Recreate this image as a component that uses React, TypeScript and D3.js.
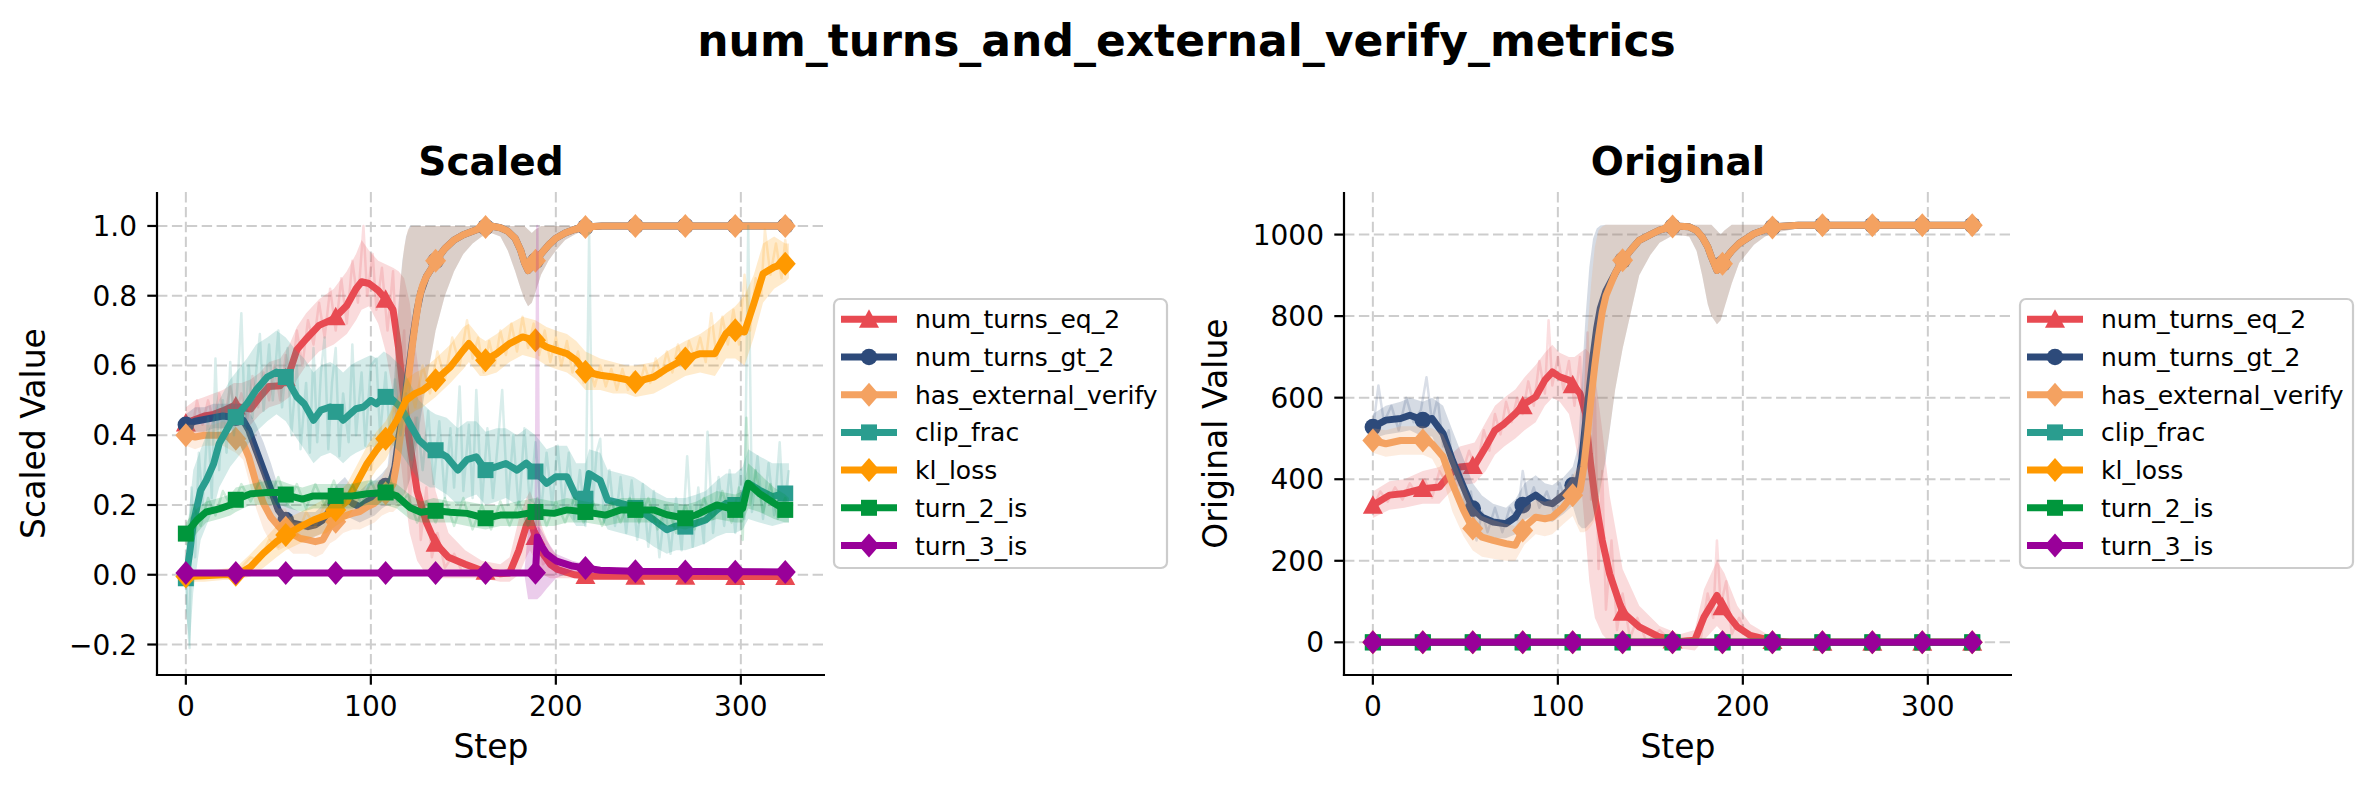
import React from 'react';
import * as d3 from 'd3';

const W = 2373;
const H = 789;
const FONT = '"DejaVu Sans", "Liberation Sans", sans-serif';

const SUPTITLE = 'num_turns_and_external_verify_metrics';
const PANEL_TITLES = ['Scaled', 'Original'];
const Y_LABELS = ['Scaled Value', 'Original Value'];
const X_LABEL = 'Step';

const SERIES_NAMES = ['num_turns_eq_2', 'num_turns_gt_2', 'has_external_verify', 'clip_frac', 'kl_loss', 'turn_2_is', 'turn_3_is'];
const SERIES_COLORS = ['#E84A52', '#2D4A7A', '#F4A261', '#2A9D8F', '#FF9900', '#00963C', '#990099'];
const SERIES_MARKERS = ['triangle', 'circle', 'diamond', 'square', 'diamond', 'square', 'diamond'];
const MARKER_STEPS = [0, 27, 54, 81, 108, 135, 162, 189, 216, 243, 270, 297, 324];
const X_TICKS = [0, 100, 200, 300];
const SCALED_Y_TICKS = [-0.2, 0, 0.2, 0.4, 0.6, 0.8, 1.0];
const ORIGINAL_Y_TICKS = [0, 200, 400, 600, 800, 1000];

// smoothed rows: [step, smoothed value, band low, band high]
const scaledNumTurnsEq2 = [
  [0, 0.435, 0.39, 0.48], [5, 0.445, 0.40, 0.50], [10, 0.455, 0.41, 0.51], [15, 0.46, 0.41, 0.52],
  [20, 0.47, 0.42, 0.53], [26, 0.485, 0.43, 0.55], [30, 0.48, 0.43, 0.55], [35, 0.475, 0.43, 0.56],
  [40, 0.51, 0.46, 0.58], [45, 0.54, 0.48, 0.61], [51, 0.542, 0.49, 0.62], [56, 0.58, 0.51, 0.66],
  [60, 0.645, 0.56, 0.71], [65, 0.676, 0.60, 0.75], [72, 0.715, 0.64, 0.79], [80, 0.734, 0.66, 0.82],
  [87, 0.772, 0.69, 0.87], [92, 0.82, 0.73, 0.92], [95, 0.84, 0.76, 0.96], [99, 0.835, 0.77, 0.93],
  [104, 0.815, 0.72, 0.90], [108, 0.79, 0.64, 0.89], [112, 0.76, 0.52, 0.88], [115, 0.65, 0.38, 0.87],
  [118, 0.50, 0.24, 0.85], [121, 0.38, 0.12, 0.78], [125, 0.24, 0.04, 0.62], [130, 0.15, 0.0, 0.40],
  [135, 0.09, -0.01, 0.24], [142, 0.05, -0.01, 0.12], [151, 0.03, -0.01, 0.07], [160, 0.012, -0.01, 0.04],
  [170, 0.003, -0.02, 0.03], [175, 0.005, -0.02, 0.05], [180, 0.07, 0.0, 0.16], [184, 0.14, 0.05, 0.22],
  [186, 0.16, 0.07, 0.24], [189, 0.11, 0.04, 0.20], [193, 0.06, 0.0, 0.13], [197, 0.03, -0.01, 0.08],
  [201, 0.015, -0.01, 0.05], [210, 0.0, -0.01, 0.02], [220, -0.004, -0.008, 0.005], [326, -0.005, -0.008, 0.0],
];

const scaledNumTurnsGt2 = [
  [0, 0.43, 0.40, 0.46], [5, 0.44, 0.41, 0.48], [10, 0.445, 0.41, 0.48], [15, 0.45, 0.42, 0.49],
  [20, 0.455, 0.42, 0.49], [27, 0.45, 0.41, 0.49], [31, 0.443, 0.40, 0.49], [34, 0.415, 0.36, 0.47],
  [38, 0.357, 0.29, 0.43], [42, 0.30, 0.22, 0.38], [46, 0.243, 0.17, 0.32], [50, 0.185, 0.13, 0.25],
  [54, 0.157, 0.11, 0.21], [58, 0.148, 0.11, 0.19], [62, 0.143, 0.11, 0.18], [66, 0.138, 0.10, 0.18],
  [70, 0.143, 0.11, 0.18], [74, 0.157, 0.12, 0.20], [78, 0.185, 0.14, 0.23], [82, 0.21, 0.16, 0.26],
  [86, 0.224, 0.17, 0.28], [90, 0.205, 0.16, 0.25], [94, 0.195, 0.15, 0.24], [98, 0.21, 0.16, 0.26],
  [102, 0.22, 0.17, 0.27], [106, 0.243, 0.19, 0.29], [109, 0.26, 0.20, 0.31], [111, 0.27, 0.20, 0.40],
  [113, 0.31, 0.20, 0.60], [115, 0.39, 0.21, 0.78], [117, 0.45, 0.22, 0.90], [119, 0.53, 0.24, 0.97],
  [121, 0.61, 0.27, 1.0], [123, 0.69, 0.32, 1.0], [125, 0.76, 0.38, 1.0], [127, 0.81, 0.45, 1.0],
  [130, 0.855, 0.55, 1.0], [133, 0.88, 0.64, 1.0], [135, 0.90, 0.70, 1.0], [140, 0.935, 0.80, 1.0],
  [145, 0.96, 0.87, 1.0], [150, 0.975, 0.92, 1.0], [155, 0.985, 0.95, 1.0], [160, 0.995, 0.97, 1.0],
  [165, 1.0, 0.98, 1.0], [170, 0.995, 0.97, 1.0], [174, 0.985, 0.93, 1.0], [178, 0.965, 0.87, 1.0],
  [181, 0.93, 0.82, 1.0], [183, 0.895, 0.79, 1.0], [185, 0.872, 0.77, 0.99], [187, 0.883, 0.78, 0.98],
  [189, 0.90, 0.81, 0.99], [192, 0.92, 0.86, 1.0], [196, 0.945, 0.90, 1.0], [200, 0.965, 0.93, 1.0],
  [205, 0.98, 0.96, 1.0], [210, 0.99, 0.975, 1.0], [216, 0.997, 0.99, 1.0], [225, 1.0, 0.995, 1.0],
  [326, 1.0, 0.995, 1.0],
];

const scaledHasExternalVerify = [
  [0, 0.40, 0.37, 0.43], [5, 0.395, 0.36, 0.43], [10, 0.40, 0.37, 0.43], [15, 0.40, 0.37, 0.43],
  [20, 0.40, 0.37, 0.44], [27, 0.39, 0.35, 0.43], [31, 0.376, 0.33, 0.43], [34, 0.338, 0.27, 0.41],
  [38, 0.262, 0.19, 0.35], [42, 0.204, 0.13, 0.29], [46, 0.165, 0.09, 0.23], [50, 0.14, 0.07, 0.19],
  [54, 0.135, 0.08, 0.19], [58, 0.115, 0.06, 0.15], [62, 0.104, 0.06, 0.15], [66, 0.10, 0.06, 0.14],
  [70, 0.095, 0.05, 0.14], [74, 0.10, 0.06, 0.14], [78, 0.138, 0.09, 0.18], [81, 0.152, 0.10, 0.20],
  [85, 0.167, 0.12, 0.22], [90, 0.176, 0.13, 0.23], [94, 0.181, 0.13, 0.23], [98, 0.195, 0.14, 0.25],
  [102, 0.205, 0.15, 0.26], [106, 0.224, 0.17, 0.28], [110, 0.243, 0.18, 0.32], [112, 0.26, 0.18, 0.48],
  [114, 0.32, 0.19, 0.68], [116, 0.40, 0.20, 0.84], [118, 0.47, 0.22, 0.94], [120, 0.55, 0.25, 0.99],
  [122, 0.64, 0.30, 1.0], [124, 0.72, 0.36, 1.0], [126, 0.79, 0.43, 1.0], [128, 0.83, 0.50, 1.0],
  [130, 0.855, 0.56, 1.0], [133, 0.88, 0.64, 1.0], [135, 0.90, 0.70, 1.0], [140, 0.935, 0.80, 1.0],
  [145, 0.96, 0.87, 1.0], [150, 0.975, 0.92, 1.0], [155, 0.985, 0.95, 1.0], [160, 0.995, 0.97, 1.0],
  [165, 1.0, 0.98, 1.0], [170, 0.995, 0.97, 1.0], [174, 0.985, 0.93, 1.0], [178, 0.965, 0.87, 1.0],
  [181, 0.93, 0.82, 1.0], [183, 0.895, 0.79, 1.0], [185, 0.872, 0.77, 0.99], [187, 0.883, 0.78, 0.98],
  [189, 0.90, 0.81, 0.99], [192, 0.92, 0.86, 1.0], [196, 0.945, 0.90, 1.0], [200, 0.965, 0.93, 1.0],
  [205, 0.98, 0.96, 1.0], [210, 0.99, 0.975, 1.0], [216, 0.997, 0.99, 1.0], [225, 1.0, 0.995, 1.0],
  [326, 1.0, 0.995, 1.0],
];

const scaledClipFrac = [
  [0, -0.01, -0.10, 0.05], [2, 0.06, -0.21, 0.20], [4, 0.146, -0.05, 0.30], [8, 0.242, 0.10, 0.36],
  [11, 0.27, 0.14, 0.40], [15, 0.318, 0.19, 0.45], [18, 0.376, 0.25, 0.50], [24, 0.433, 0.31, 0.56],
  [27, 0.452, 0.33, 0.58], [33, 0.49, 0.37, 0.62], [38, 0.53, 0.41, 0.66], [44, 0.567, 0.44, 0.68],
  [49, 0.581, 0.46, 0.70], [54, 0.567, 0.44, 0.68], [60, 0.51, 0.39, 0.64], [64, 0.49, 0.36, 0.62],
  [69, 0.443, 0.32, 0.58], [73, 0.472, 0.34, 0.60], [78, 0.481, 0.35, 0.61], [81, 0.467, 0.34, 0.60],
  [85, 0.443, 0.32, 0.58], [89, 0.462, 0.34, 0.60], [92, 0.476, 0.35, 0.61], [96, 0.481, 0.36, 0.62],
  [100, 0.50, 0.37, 0.63], [103, 0.49, 0.36, 0.62], [107, 0.51, 0.38, 0.64], [110, 0.51, 0.38, 0.63],
  [116, 0.481, 0.35, 0.60], [121, 0.433, 0.31, 0.55], [126, 0.386, 0.27, 0.50], [132, 0.357, 0.25, 0.47],
  [135, 0.357, 0.25, 0.46], [141, 0.338, 0.23, 0.45], [147, 0.30, 0.20, 0.42], [152, 0.33, 0.22, 0.44],
  [157, 0.338, 0.23, 0.44], [162, 0.30, 0.20, 0.41], [168, 0.31, 0.21, 0.42], [173, 0.319, 0.22, 0.42],
  [179, 0.30, 0.20, 0.40], [184, 0.32, 0.22, 0.42], [189, 0.296, 0.20, 0.40], [195, 0.262, 0.17, 0.36],
  [200, 0.281, 0.18, 0.37], [206, 0.281, 0.18, 0.37], [211, 0.224, 0.14, 0.32], [216, 0.218, 0.14, 0.32],
  [218, 0.29, 0.18, 0.36], [224, 0.27, 0.17, 0.35], [228, 0.214, 0.13, 0.30], [235, 0.205, 0.12, 0.29],
  [242, 0.195, 0.11, 0.28], [248, 0.175, 0.10, 0.26], [253, 0.157, 0.08, 0.24], [260, 0.129, 0.06, 0.22],
  [265, 0.14, 0.07, 0.22], [270, 0.138, 0.07, 0.22], [276, 0.148, 0.08, 0.23], [281, 0.157, 0.09, 0.24],
  [287, 0.186, 0.11, 0.27], [292, 0.205, 0.12, 0.29], [297, 0.20, 0.12, 0.29], [301, 0.214, 0.13, 0.31],
  [304, 0.262, 0.16, 0.36], [310, 0.243, 0.15, 0.34], [317, 0.224, 0.14, 0.32], [324, 0.233, 0.15, 0.32],
  [326, 0.233, 0.15, 0.32],
];

const scaledKlLoss = [
  [0, -0.005, -0.02, 0.01], [10, -0.003, -0.02, 0.01], [20, 0.0, -0.015, 0.015], [27, 0.0, -0.015, 0.02],
  [31, 0.01, -0.01, 0.04], [35, 0.023, -0.005, 0.06], [42, 0.062, 0.02, 0.10], [49, 0.095, 0.05, 0.14],
  [54, 0.114, 0.07, 0.16], [62, 0.138, 0.09, 0.18], [69, 0.157, 0.11, 0.20], [76, 0.171, 0.12, 0.22],
  [81, 0.186, 0.14, 0.23], [87, 0.21, 0.16, 0.26], [92, 0.26, 0.20, 0.31], [98, 0.319, 0.26, 0.37],
  [103, 0.357, 0.30, 0.41], [108, 0.39, 0.33, 0.44], [114, 0.443, 0.39, 0.50], [119, 0.50, 0.45, 0.56],
  [124, 0.52, 0.47, 0.58], [128, 0.529, 0.48, 0.59], [135, 0.558, 0.51, 0.62], [143, 0.596, 0.55, 0.66],
  [150, 0.644, 0.59, 0.71], [153, 0.663, 0.61, 0.72], [159, 0.625, 0.57, 0.68], [162, 0.615, 0.57, 0.67],
  [168, 0.634, 0.58, 0.69], [175, 0.663, 0.61, 0.72], [182, 0.682, 0.63, 0.74], [189, 0.672, 0.62, 0.73],
  [195, 0.653, 0.60, 0.71], [200, 0.644, 0.59, 0.70], [206, 0.634, 0.58, 0.69], [211, 0.615, 0.56, 0.67],
  [216, 0.582, 0.53, 0.64], [224, 0.572, 0.53, 0.62], [231, 0.567, 0.52, 0.61], [238, 0.56, 0.52, 0.60],
  [243, 0.553, 0.51, 0.60], [253, 0.567, 0.52, 0.61], [260, 0.591, 0.54, 0.64], [270, 0.62, 0.57, 0.67],
  [278, 0.634, 0.58, 0.69], [286, 0.634, 0.57, 0.72], [292, 0.692, 0.62, 0.75], [297, 0.701, 0.62, 0.77],
  [302, 0.696, 0.60, 0.80], [307, 0.777, 0.68, 0.86], [312, 0.863, 0.78, 0.95], [318, 0.882, 0.82, 0.97],
  [324, 0.892, 0.84, 0.95], [326, 0.895, 0.85, 0.95],
];

const scaledTurn2Is = [
  [0, 0.118, 0.08, 0.15], [6, 0.157, 0.12, 0.19], [11, 0.18, 0.15, 0.21], [18, 0.189, 0.16, 0.22],
  [24, 0.20, 0.17, 0.23], [27, 0.215, 0.18, 0.25], [35, 0.232, 0.20, 0.26], [44, 0.236, 0.20, 0.27],
  [51, 0.236, 0.20, 0.27], [56, 0.226, 0.19, 0.26], [63, 0.217, 0.18, 0.25], [69, 0.226, 0.19, 0.26],
  [76, 0.226, 0.19, 0.26], [82, 0.226, 0.19, 0.26], [90, 0.226, 0.19, 0.26], [98, 0.232, 0.20, 0.27],
  [108, 0.236, 0.20, 0.27], [114, 0.226, 0.19, 0.26], [121, 0.193, 0.16, 0.23], [127, 0.179, 0.15, 0.21],
  [134, 0.184, 0.15, 0.22], [143, 0.179, 0.15, 0.21], [152, 0.176, 0.14, 0.21], [162, 0.162, 0.13, 0.20],
  [170, 0.171, 0.14, 0.20], [179, 0.171, 0.14, 0.21], [189, 0.18, 0.14, 0.22], [199, 0.176, 0.14, 0.21],
  [206, 0.186, 0.15, 0.22], [216, 0.18, 0.15, 0.21], [227, 0.171, 0.14, 0.20], [235, 0.186, 0.15, 0.22],
  [243, 0.186, 0.15, 0.22], [253, 0.186, 0.15, 0.22], [260, 0.172, 0.14, 0.21], [270, 0.162, 0.13, 0.20],
  [276, 0.172, 0.14, 0.21], [287, 0.20, 0.16, 0.24], [297, 0.186, 0.15, 0.23], [301, 0.19, 0.15, 0.24],
  [304, 0.262, 0.19, 0.32], [310, 0.233, 0.18, 0.29], [318, 0.205, 0.16, 0.25], [324, 0.186, 0.15, 0.23],
  [326, 0.185, 0.15, 0.22],
];

const scaledTurn3Is = [
  [0, 0.005, 0.0, 0.01], [183, 0.005, 0.0, 0.01], [185, 0.005, -0.07, 0.13], [189, 0.006, -0.07, 0.13],
  [190, 0.108, -0.07, 0.14], [192, 0.085, -0.06, 0.13], [195, 0.06, -0.04, 0.10], [200, 0.04, -0.01, 0.06],
  [209, 0.025, 0.01, 0.04], [224, 0.013, 0.005, 0.02], [242, 0.01, 0.005, 0.015], [326, 0.008, 0.005, 0.012],
];

// faint raw traces (estimated excursions): [step, value]
const scaledNumTurnsEq2Raw = [
  [0, 0.44], [3, 0.40], [6, 0.50], [9, 0.43], [12, 0.50], [15, 0.44], [18, 0.52], [21, 0.45], [24, 0.54],
  [27, 0.46], [30, 0.52], [33, 0.44], [36, 0.57], [39, 0.48], [42, 0.58], [45, 0.50], [48, 0.60], [51, 0.50],
  [54, 0.63], [57, 0.55], [60, 0.70], [63, 0.60], [66, 0.73], [69, 0.66], [72, 0.78], [75, 0.68], [78, 0.82],
  [81, 0.70], [84, 0.85], [87, 0.72], [90, 0.90], [93, 0.78], [96, 1.0], [98, 0.80], [101, 0.92], [103, 0.76],
  [106, 0.88], [109, 0.70], [112, 0.87], [115, 0.50], [118, 0.70], [121, 0.20], [124, 0.45], [127, 0.10],
  [130, 0.25], [133, 0.05], [136, 0.12], [140, 0.02], [145, 0.06], [150, 0.0], [160, 0.02], [170, 0.0],
  [178, 0.03], [182, 0.12], [185, 0.20], [187, 0.10], [190, 0.16], [193, 0.03], [197, 0.05], [205, 0.0],
  [326, 0.0],
];

const scaledClipFracRaw = [
  [0, -0.01], [2, -0.21], [3, 0.25], [5, 0.05], [7, 0.35], [9, 0.20], [12, 0.45], [14, 0.22], [16, 0.62],
  [18, 0.30], [20, 0.50], [22, 0.35], [24, 0.61], [26, 0.40], [28, 0.55], [30, 0.75], [32, 0.42], [34, 0.60],
  [36, 0.45], [38, 0.58], [40, 0.69], [42, 0.47], [45, 0.66], [47, 0.50], [50, 0.70], [52, 0.48], [55, 0.65],
  [57, 0.40], [60, 0.60], [62, 0.36], [65, 0.55], [67, 0.35], [69, 0.65], [71, 0.38], [73, 0.58], [75, 0.68],
  [77, 0.36], [79, 0.55], [81, 0.65], [83, 0.34], [85, 0.52], [88, 0.38], [90, 0.66], [92, 0.40], [95, 0.58],
  [97, 0.37], [100, 0.60], [103, 0.62], [105, 0.40], [108, 0.58], [110, 0.42], [113, 0.56], [116, 0.40],
  [119, 0.52], [122, 0.33], [125, 0.45], [128, 0.30], [131, 0.47], [134, 0.26], [137, 0.44], [140, 0.22],
  [143, 0.42], [145, 0.25], [148, 0.54], [150, 0.24], [153, 0.43], [155, 0.22], [157, 0.53], [160, 0.20],
  [163, 0.42], [166, 0.22], [169, 0.40], [171, 0.53], [174, 0.20], [177, 0.40], [180, 0.18], [183, 0.42],
  [186, 0.20], [189, 0.38], [192, 0.18], [195, 0.35], [198, 0.20], [201, 0.37], [204, 0.19], [207, 0.35],
  [210, 0.16], [213, 0.30], [216, 0.14], [218, 0.98], [220, 0.20], [222, 0.35], [224, 0.39], [226, 0.15],
  [229, 0.30], [232, 0.14], [235, 0.28], [238, 0.12], [241, 0.27], [244, 0.10], [247, 0.26], [250, 0.08],
  [253, 0.24], [256, 0.05], [259, 0.20], [262, 0.06], [265, 0.22], [268, 0.07], [271, 0.34], [274, 0.08],
  [277, 0.25], [280, 0.09], [282, 0.41], [285, 0.12], [288, 0.28], [291, 0.14], [294, 0.30], [297, 0.12],
  [300, 0.30], [302, 0.16], [304, 1.0], [306, 0.18], [309, 0.34], [312, 0.16], [315, 0.32], [318, 0.17],
  [321, 0.38], [323, 0.18], [326, 0.30],
];

const scaledKlLossRaw = [
  [0, 0.0], [30, 0.02], [35, 0.05], [40, 0.04], [45, 0.10], [50, 0.08], [55, 0.14], [60, 0.11], [65, 0.18],
  [70, 0.14], [75, 0.20], [80, 0.16], [85, 0.24], [90, 0.22], [95, 0.30], [100, 0.30], [104, 0.40], [108, 0.36],
  [112, 0.48], [116, 0.44], [120, 0.56], [124, 0.48], [128, 0.60], [132, 0.52], [136, 0.64], [140, 0.56],
  [144, 0.68], [148, 0.60], [152, 0.73], [155, 0.62], [158, 0.68], [161, 0.58], [164, 0.67], [167, 0.60],
  [170, 0.70], [173, 0.63], [176, 0.72], [179, 0.64], [182, 0.74], [185, 0.65], [188, 0.72], [191, 0.63],
  [194, 0.70], [197, 0.61], [200, 0.68], [203, 0.60], [206, 0.67], [209, 0.58], [212, 0.64], [215, 0.55],
  [218, 0.60], [221, 0.54], [224, 0.60], [227, 0.54], [230, 0.59], [233, 0.53], [236, 0.59], [239, 0.53],
  [242, 0.58], [245, 0.54], [248, 0.60], [251, 0.55], [254, 0.62], [257, 0.57], [260, 0.64], [263, 0.58],
  [266, 0.66], [269, 0.60], [272, 0.67], [275, 0.62], [278, 0.68], [281, 0.61], [284, 0.75], [287, 0.62],
  [290, 0.74], [293, 0.66], [296, 0.76], [299, 0.66], [302, 0.86], [305, 0.70], [308, 0.85], [311, 0.80],
  [313, 0.99], [316, 0.86], [319, 0.95], [322, 0.85], [324, 0.96], [326, 0.88],
];

const scaledTurn2IsRaw = [
  [0, 0.12], [4, 0.20], [8, 0.14], [12, 0.22], [16, 0.17], [20, 0.24], [25, 0.19], [30, 0.26], [35, 0.21],
  [40, 0.27], [45, 0.22], [50, 0.28], [55, 0.20], [60, 0.26], [65, 0.19], [70, 0.26], [75, 0.20], [80, 0.27],
  [85, 0.20], [90, 0.26], [95, 0.20], [100, 0.27], [105, 0.21], [110, 0.28], [115, 0.20], [120, 0.23],
  [125, 0.15], [130, 0.21], [135, 0.15], [140, 0.22], [145, 0.14], [150, 0.22], [155, 0.13], [160, 0.20],
  [165, 0.13], [170, 0.21], [175, 0.14], [180, 0.21], [185, 0.14], [190, 0.22], [195, 0.14], [200, 0.21],
  [205, 0.15], [210, 0.22], [215, 0.15], [220, 0.21], [225, 0.14], [230, 0.21], [235, 0.15], [240, 0.22],
  [245, 0.15], [250, 0.22], [255, 0.13], [260, 0.20], [265, 0.12], [270, 0.20], [275, 0.13], [280, 0.22],
  [285, 0.16], [290, 0.24], [295, 0.15], [299, 0.25], [301, 0.10], [303, 0.45], [305, 0.20], [308, 0.30],
  [312, 0.18], [316, 0.26], [320, 0.16], [324, 0.22], [326, 0.18],
];

const scaledTurn3IsRaw = [
  [0, 0.005], [189, 0.005], [190, 1.0], [191, 0.08], [193, 0.06], [196, 0.05], [200, 0.035], [210, 0.022],
  [230, 0.012], [326, 0.008],
];

const originalNumTurnsEq2 = [
  [0, 336, 305, 370], [9, 361, 325, 395], [17, 365, 330, 400], [27, 377, 340, 420], [36, 381, 340, 430],
  [42, 414, 370, 460], [47, 430, 385, 480], [55, 434, 390, 490], [61, 479, 420, 540], [66, 520, 460, 580],
  [71, 536, 480, 600], [77, 561, 500, 620], [82, 585, 520, 650], [88, 602, 540, 680], [93, 643, 580, 710],
  [97, 663, 600, 730], [101, 651, 590, 710], [106, 643, 560, 700], [109, 626, 500, 700], [112, 610, 420, 710],
  [115, 561, 260, 720], [117, 463, 150, 710], [120, 356, 60, 660], [124, 250, 20, 520], [128, 168, 0, 360],
  [135, 74, -10, 180], [144, 38, -10, 90], [155, 13, -10, 40], [166, 2, -15, 20], [174, 5, -20, 30],
  [179, 62, 5, 130], [186, 115, 40, 200], [190, 78, 20, 170], [197, 38, 0, 90], [204, 17, -5, 45],
  [215, 5, -5, 15], [225, 0, -3, 3], [326, 0, -3, 3],
];

const originalNumTurnsGt2 = [
  [0, 528, 500, 560], [7, 545, 510, 580], [15, 549, 515, 590], [20, 557, 520, 600], [27, 545, 505, 590],
  [32, 549, 505, 600], [38, 512, 450, 580], [43, 446, 380, 520], [49, 381, 310, 450], [54, 328, 270, 390],
  [59, 307, 260, 360], [65, 295, 255, 340], [72, 291, 255, 330], [77, 307, 265, 350], [82, 344, 300, 390],
  [88, 361, 315, 410], [93, 344, 300, 390], [97, 340, 295, 385], [103, 361, 315, 405], [108, 385, 335, 430],
  [111, 397, 290, 480], [113, 450, 280, 650], [115, 540, 280, 800], [117, 620, 290, 920], [119, 700, 300, 990],
  [121, 770, 330, 1015], [123, 820, 380, 1022], [126, 862, 450, 1024], [131, 905, 620, 1024],
  [135, 937, 720, 1024], [140, 965, 820, 1024], [144, 986, 900, 1024], [150, 1000, 950, 1024],
  [155, 1011, 980, 1024], [163, 1021, 1000, 1024], [171, 1019, 995, 1024], [175, 1010, 960, 1024],
  [178, 994, 900, 1024], [181, 970, 830, 1024], [183, 945, 800, 1024], [186, 912, 780, 1010],
  [188, 920, 790, 1000], [190, 937, 820, 1010], [194, 960, 880, 1024], [198, 978, 930, 1024],
  [206, 1002, 975, 1024], [212, 1012, 995, 1024], [217, 1019, 1005, 1024], [230, 1023, 1015, 1024],
  [326, 1023, 1018, 1024],
];

const originalHasExternalVerify = [
  [0, 495, 465, 525], [7, 487, 455, 520], [15, 495, 460, 530], [20, 495, 460, 530], [27, 495, 460, 530],
  [32, 487, 450, 525], [38, 455, 400, 510], [43, 389, 320, 460], [49, 324, 260, 390], [54, 279, 225, 335],
  [59, 258, 210, 310], [65, 250, 205, 300], [72, 242, 200, 290], [77, 238, 200, 285], [82, 283, 240, 330],
  [88, 307, 265, 350], [93, 303, 260, 345], [97, 307, 265, 350], [103, 332, 290, 375], [108, 361, 310, 410],
  [112, 373, 270, 440], [114, 430, 270, 600], [116, 510, 275, 760], [118, 600, 285, 880], [120, 680, 300, 970],
  [122, 750, 340, 1010], [124, 810, 400, 1020], [126, 850, 460, 1024], [128, 872, 520, 1024],
  [131, 905, 620, 1024], [135, 937, 720, 1024], [140, 965, 820, 1024], [144, 986, 900, 1024],
  [150, 1000, 950, 1024], [155, 1011, 980, 1024], [163, 1021, 1000, 1024], [171, 1019, 995, 1024],
  [175, 1010, 960, 1024], [178, 994, 900, 1024], [181, 970, 830, 1024], [183, 945, 800, 1024],
  [186, 912, 780, 1010], [188, 920, 790, 1000], [190, 937, 820, 1010], [194, 960, 880, 1024],
  [198, 978, 930, 1024], [206, 1002, 975, 1024], [212, 1012, 995, 1024], [217, 1019, 1005, 1024],
  [230, 1023, 1015, 1024], [326, 1023, 1018, 1024],
];

const originalClipFrac = [[0, 0, 0, 0], [326, 0, 0, 0]];
const originalKlLoss = [[0, 0, 0, 0], [326, 0, 0, 0]];
const originalTurn2Is = [[0, 0, 0, 0], [326, 0, 0, 0]];
const originalTurn3Is = [[0, 0, 0, 0], [326, 0, 0, 0]];

const originalNumTurnsEq2Raw = [
  [0, 330], [4, 370], [8, 345], [12, 380], [16, 350], [20, 390], [24, 360], [28, 400], [32, 355], [36, 420],
  [40, 390], [44, 450], [48, 410], [52, 470], [56, 420], [60, 520], [63, 470], [66, 560], [69, 510], [72, 590],
  [75, 540], [78, 600], [81, 560], [84, 640], [87, 580], [90, 690], [93, 610], [95, 790], [97, 630], [100, 700],
  [103, 620], [106, 690], [109, 580], [112, 700], [114, 500], [116, 760], [118, 350], [120, 600], [122, 180],
  [124, 420], [126, 80], [129, 250], [132, 30], [135, 120], [139, 10], [143, 60], [148, 0], [155, 30],
  [162, 0], [170, 10], [177, 0], [181, 120], [184, 60], [186, 250], [188, 90], [191, 150], [194, 20],
  [198, 60], [204, 0], [326, 0],
];

const originalNumTurnsGt2Raw = [
  [0, 520], [3, 630], [6, 540], [10, 580], [14, 520], [18, 600], [22, 540], [26, 570], [29, 650], [32, 540],
  [35, 600], [38, 480], [41, 520], [44, 400], [47, 430], [50, 330], [53, 370], [56, 250], [59, 320], [62, 270],
  [66, 330], [70, 270], [74, 330], [78, 300], [81, 420], [84, 340], [87, 380], [90, 330], [94, 370], [98, 320],
  [101, 390], [104, 350], [108, 410], [111, 380],
];

const SCALED_SERIES = [scaledNumTurnsEq2, scaledNumTurnsGt2, scaledHasExternalVerify, scaledClipFrac, scaledKlLoss, scaledTurn2Is, scaledTurn3Is];
const SCALED_RAW = [scaledNumTurnsEq2Raw, null, null, scaledClipFracRaw, scaledKlLossRaw, scaledTurn2IsRaw, scaledTurn3IsRaw];
const ORIGINAL_SERIES = [originalNumTurnsEq2, originalNumTurnsGt2, originalHasExternalVerify, originalClipFrac, originalKlLoss, originalTurn2Is, originalTurn3Is];
const ORIGINAL_RAW = [originalNumTurnsEq2Raw, originalNumTurnsGt2Raw, null, null, null, null, null];

const X_DOMAIN: [number, number] = [-15.6, 345.5];
const TOP = 192;
const BOTTOM = 675;

const PANELS = [
  {
    key: 'scaled', left: 157, right: 825, yDomain: [-0.2874, 1.0974], yTicks: SCALED_Y_TICKS,
    fmt: d3.format('.1f'), series: SCALED_SERIES, raw: SCALED_RAW, title: PANEL_TITLES[0], yLabel: Y_LABELS[0], yLabelX: 45,
    legendX: 834,
  },
  {
    key: 'original', left: 1344, right: 2012, yDomain: [-80.1, 1104.4], yTicks: ORIGINAL_Y_TICKS,
    fmt: d3.format('d'), series: ORIGINAL_SERIES, raw: ORIGINAL_RAW, title: PANEL_TITLES[1], yLabel: Y_LABELS[1], yLabelX: 1227,
    legendX: 2020,
  },
];

function Marker({ kind, x, y, color }: { kind: string; x: number; y: number; color: string }) {
  if (kind === 'circle') return <circle cx={x} cy={y} r={8.3} fill={color} />;
  if (kind === 'square') return <rect x={x - 8} y={y - 8} width={16} height={16} fill={color} />;
  if (kind === 'triangle') {
    const p = `${x},${y - 10} ${x + 10},${y + 8.5} ${x - 10},${y + 8.5}`;
    return <polygon points={p} fill={color} />;
  }
  const p = `${x},${y - 12} ${x + 10.5},${y} ${x},${y + 12} ${x - 10.5},${y}`;
  return <polygon points={p} fill={color} />;
}

function interp(data: number[][], s: number) {
  const sc = d3.scaleLinear().domain(data.map((d) => d[0])).range(data.map((d) => d[1])).clamp(true);
  return sc(s);
}

function Panel({ cfg }: { cfg: any }) {
  const x = d3.scaleLinear().domain(X_DOMAIN).range([cfg.left, cfg.right]);
  const y = d3.scaleLinear().domain(cfg.yDomain).range([BOTTOM, TOP]);
  const line = d3.line<number[]>().x((d) => x(d[0])).y((d) => y(d[1]));
  const area = d3.area<number[]>().x((d) => x(d[0])).y0((d) => y(d[2])).y1((d) => y(d[3]));
  const clipId = `clip-${cfg.key}`;
  const cx = (cfg.left + cfg.right) / 2;
  const cy = (TOP + BOTTOM) / 2;
  const gridColor = '#cdcdcd';
  const legendTop = 299;
  const rowGap = 37.7;
  const firstRow = 319.3;
  return (
    <g>
      <defs>
        <clipPath id={clipId}>
          <rect x={cfg.left} y={TOP} width={cfg.right - cfg.left} height={BOTTOM - TOP} />
        </clipPath>
      </defs>
      {X_TICKS.map((t) => (
        <line key={'gx' + t} x1={x(t)} x2={x(t)} y1={TOP} y2={BOTTOM} stroke={gridColor} strokeWidth={2} strokeDasharray="10.4,4.5" />
      ))}
      {cfg.yTicks.map((t: number) => (
        <line key={'gy' + t} x1={cfg.left} x2={cfg.right} y1={y(t)} y2={y(t)} stroke={gridColor} strokeWidth={2} strokeDasharray="10.4,4.5" />
      ))}
      <g clipPath={`url(#${clipId})`}>
        {cfg.series.map((data: number[][], i: number) => (
          <g key={'s' + i}>
            {cfg.raw[i] && (
              <path d={line(cfg.raw[i]) || ''} fill="none" stroke={SERIES_COLORS[i]} strokeOpacity={0.18} strokeWidth={2.5} strokeLinejoin="round" />
            )}
            <path d={area(data) || ''} fill={SERIES_COLORS[i]} fillOpacity={0.2} stroke="none" />
            <path d={line(data) || ''} fill="none" stroke={SERIES_COLORS[i]} strokeWidth={7} strokeLinejoin="round" />
            {MARKER_STEPS.filter((s) => s <= data[data.length - 1][0]).map((s) => (
              <Marker key={'m' + s} kind={SERIES_MARKERS[i]} x={x(s)} y={y(interp(data, s))} color={SERIES_COLORS[i]} />
            ))}
          </g>
        ))}
      </g>
      <line x1={cfg.left} x2={cfg.left} y1={TOP} y2={BOTTOM + 1.1} stroke="#000" strokeWidth={2.2} />
      <line x1={cfg.left - 1.1} x2={cfg.right} y1={BOTTOM} y2={BOTTOM} stroke="#000" strokeWidth={2.2} />
      {X_TICKS.map((t) => (
        <g key={'xt' + t}>
          <line x1={x(t)} x2={x(t)} y1={BOTTOM} y2={BOTTOM + 9.7} stroke="#000" strokeWidth={2.2} />
          <text x={x(t)} y={716} textAnchor="middle" fontSize={28} fontFamily={FONT}>{t}</text>
        </g>
      ))}
      {cfg.yTicks.map((t: number) => (
        <g key={'yt' + t}>
          <line x1={cfg.left - 9.7} x2={cfg.left} y1={y(t)} y2={y(t)} stroke="#000" strokeWidth={2.2} />
          <text x={cfg.left - 20} y={y(t) + 10} textAnchor="end" fontSize={28} fontFamily={FONT}>{cfg.fmt(t)}</text>
        </g>
      ))}
      <text x={cx} y={758} textAnchor="middle" fontSize={33} fontFamily={FONT}>{X_LABEL}</text>
      <text transform={`translate(${cfg.yLabelX},${cy}) rotate(-90)`} textAnchor="middle" fontSize={33} fontFamily={FONT}>{cfg.yLabel}</text>
      <text x={cx} y={175} textAnchor="middle" fontSize={39} fontWeight="bold" fontFamily={FONT}>{cfg.title}</text>
      <g>
        <rect x={cfg.legendX} y={legendTop} width={333} height={269} rx={6} fill="#fff" fillOpacity={0.8} stroke="#cccccc" strokeWidth={2.2} />
        {SERIES_NAMES.map((name, i) => {
          const ry = firstRow + i * rowGap;
          const hx0 = cfg.legendX + 7;
          const hx1 = cfg.legendX + 63;
          return (
            <g key={'lg' + i}>
              <line x1={hx0} x2={hx1} y1={ry} y2={ry} stroke={SERIES_COLORS[i]} strokeWidth={7} />
              <Marker kind={SERIES_MARKERS[i]} x={(hx0 + hx1) / 2} y={ry} color={SERIES_COLORS[i]} />
              <text x={cfg.legendX + 81} y={ry + 9} fontSize={25} fontFamily={FONT}>{name}</text>
            </g>
          );
        })}
      </g>
    </g>
  );
}

export default function App() {
  return (
    <svg width={W} height={H} style={{ position: 'absolute', left: 0, top: 0, background: '#fff' }} xmlns="http://www.w3.org/2000/svg">
      <rect x={0} y={0} width={W} height={H} fill="#fff" />
      <text x={W / 2} y={56} textAnchor="middle" fontSize={44} fontWeight="bold" fontFamily={FONT}>{SUPTITLE}</text>
      {PANELS.map((p) => (
        <Panel key={p.key} cfg={p} />
      ))}
    </svg>
  );
}
